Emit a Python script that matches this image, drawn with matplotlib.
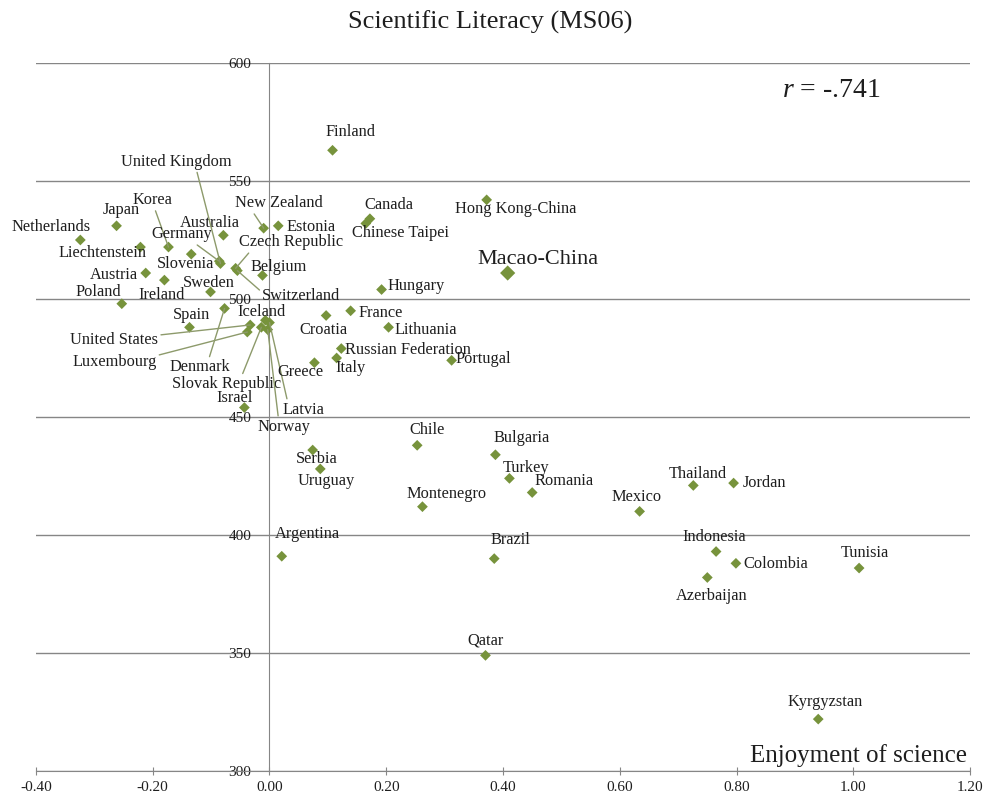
import matplotlib.pyplot as plt

plt.rcParams['font.family'] = ['Liberation Serif', 'DejaVu Serif']
plt.rcParams['mathtext.fontset'] = 'custom'
plt.rcParams['mathtext.it'] = 'Liberation Serif:italic'
plt.rcParams['mathtext.rm'] = 'Liberation Serif'

# PISA 2006: index of enjoyment of science vs. mean scientific literacy
countries = ["Finland", "Hong Kong-China", "Canada", "Chinese Taipei", "Estonia", "Japan",
             "New Zealand", "Australia", "Netherlands", "Liechtenstein", "Korea", "Slovenia",
             "Germany", "United Kingdom", "Czech Republic", "Switzerland", "Macao-China",
             "Austria", "Belgium", "Ireland", "Hungary", "Sweden", "Poland", "Denmark",
             "France", "Croatia", "Iceland", "Latvia", "United States", "Slovak Republic",
             "Spain", "Lithuania", "Norway", "Luxembourg", "Russian Federation", "Italy",
             "Portugal", "Greece", "Israel", "Chile", "Serbia", "Bulgaria", "Uruguay",
             "Turkey", "Jordan", "Thailand", "Romania", "Montenegro", "Mexico", "Indonesia",
             "Argentina", "Brazil", "Colombia", "Tunisia", "Azerbaijan", "Qatar", "Kyrgyzstan"]
enjoyment = [0.108, 0.372, 0.172, 0.165, 0.015, -0.262,
             -0.010, -0.079, -0.324, -0.221, -0.173, -0.134,
             -0.086, -0.084, -0.058, -0.055, 0.408,
             -0.212, -0.012, -0.180, 0.192, -0.101, -0.253, -0.077,
             0.139, 0.097, -0.007, 0.000, -0.033, -0.014,
             -0.137, 0.204, -0.003, -0.038, 0.123, 0.115,
             0.312, 0.077, -0.043, 0.253, 0.074, 0.387, 0.087,
             0.411, 0.795, 0.726, 0.450, 0.262, 0.634, 0.765,
             0.021, 0.385, 0.799, 1.010, 0.750, 0.370, 0.940]
science = [563, 542, 534, 532, 531, 531,
           530, 527, 525, 522, 522, 519,
           516, 515, 513, 512, 511,
           511, 510, 508, 504, 503, 498, 496,
           495, 493, 491, 490, 489, 488,
           488, 488, 487, 486, 479, 475,
           474, 473, 454, 438, 436, 434, 428,
           424, 422, 421, 418, 412, 410, 393,
           391, 390, 388, 386, 382, 349, 322]

x_ticks = [-0.4, -0.2, 0.0, 0.2, 0.4, 0.6, 0.8, 1.0, 1.2]
x_tick_labels = ["-0.40", "-0.20", "0.00", "0.20", "0.40", "0.60", "0.80", "1.00", "1.20"]
y_ticks = [300, 350, 400, 450, 500, 550, 600]
y_tick_labels = ["300", "350", "400", "450", "500", "550", "600"]

# label placement (offset in pixels from the marker), and leader-line anchors
label_offsets = {
    "Finland": (18, 18), "Hong Kong-China": (29, -9), "Canada": (19, 14),
    "Chinese Taipei": (35, -10), "Estonia": (33, -1), "Japan": (5, 16),
    "New Zealand": (15, 25), "Australia": (-14, 12), "Netherlands": (-29, 13),
    "Liechtenstein": (-38, -6), "Korea": (-16, 47), "Slovenia": (-6, -10),
    "Germany": (-38, 27), "United Kingdom": (-44, 102), "Czech Republic": (55, 26),
    "Switzerland": (64, -25), "Macao-China": (30, 14), "Austria": (-32, -2),
    "Belgium": (16, 8), "Ireland": (-3, -15), "Hungary": (35, 4), "Sweden": (-2, 9),
    "Poland": (-23, 12), "Denmark": (-25, -59), "France": (30, -2), "Croatia": (-3, -14),
    "Iceland": (-4, 8), "Latvia": (34, -87), "United States": (-136, -15),
    "Slovak Republic": (-35, -57), "Spain": (2, 12), "Lithuania": (37, -3),
    "Norway": (16, -97), "Luxembourg": (-133, -30), "Russian Federation": (67, -1),
    "Italy": (14, -10), "Portugal": (32, 1), "Greece": (-14, -9), "Israel": (-10, 10),
    "Chile": (10, 15), "Serbia": (4, -9), "Bulgaria": (26, 17), "Uruguay": (6, -12),
    "Turkey": (17, 10), "Jordan": (31, 0), "Thailand": (4, 11), "Romania": (32, 12),
    "Montenegro": (24, 13), "Mexico": (-3, 14), "Indonesia": (-2, 15),
    "Argentina": (26, 22), "Brazil": (16, 19), "Colombia": (40, -1), "Tunisia": (6, 15),
    "Azerbaijan": (4, -19), "Qatar": (0, 15), "Kyrgyzstan": (7, 17),
}
leaders = {
    "United Kingdom": (0.68, 0), "Korea": (0.55, 0), "Germany": (0.7, 0),
    "New Zealand": (0.2, 0), "Czech Republic": (0.12, 0), "Switzerland": (0.0, 0.7),
    "Denmark": (0.65, 1), "United States": (1, 0.8), "Luxembourg": (1, 0.9),
    "Slovak Republic": (0.64, 1), "Norway": (0.4, 1), "Latvia": (0.12, 1),
}

green = "#77933c"
line_gray = "#868686"
text_col = "#1e1e1e"

fig = plt.figure(figsize=(9.83, 7.98), dpi=100)
ax = fig.add_axes([0.0366, 0.0338, 0.9502, 0.8873])
ax.set_xlim(-0.4, 1.2)
ax.set_ylim(300, 600)

ax.spines["top"].set_visible(False)
ax.spines["right"].set_visible(False)
ax.spines["left"].set_position(("data", 0))
ax.spines["left"].set_color(line_gray)
ax.spines["bottom"].set_color(line_gray)
ax.yaxis.grid(True, color=line_gray, lw=1)
ax.set_axisbelow(True)

ax.set_xticks(x_ticks)
ax.set_xticklabels(x_tick_labels)
ax.set_yticks(y_ticks)
ax.set_yticklabels(y_tick_labels)
ax.tick_params(axis="x", direction="inout", length=6, color=line_gray, pad=4,
               labelsize=11, labelcolor=text_col)
ax.tick_params(axis="y", length=0, pad=13, labelsize=11, labelcolor=text_col)

sizes = [60 if c == "Macao-China" else 30 for c in countries]
ax.scatter(enjoyment, science, marker="D", s=sizes, color=green, lw=0, zorder=3)

for c, x, y in zip(countries, enjoyment, science):
    dx, dy = label_offsets[c]
    fs = 16 if c == "Macao-China" else 11.8
    arrow = None
    if c in leaders:
        arrow = dict(arrowstyle="-", color="#8d9a6b", lw=1, shrinkA=0, shrinkB=0,
                     relpos=leaders[c])
    ax.annotate(c, xy=(x, y), xytext=(dx, dy), textcoords="offset pixels",
                ha="center", va="center", fontsize=fs, color=text_col,
                arrowprops=arrow, zorder=4)

fig.text(0.4985, 1 - 22 / 798, "Scientific Literacy (MS06)", ha="center", va="center",
         fontsize=19, color=text_col)
fig.text(0.7955, (798 - 97) / 798, "$r$ = -.741", ha="left", va="baseline",
         fontsize=20, color=text_col)
fig.text(967 / 983, (798 - 762) / 798, "Enjoyment of science", ha="right", va="baseline",
         fontsize=18, color=text_col)

fig.savefig("out.png", dpi=100)
